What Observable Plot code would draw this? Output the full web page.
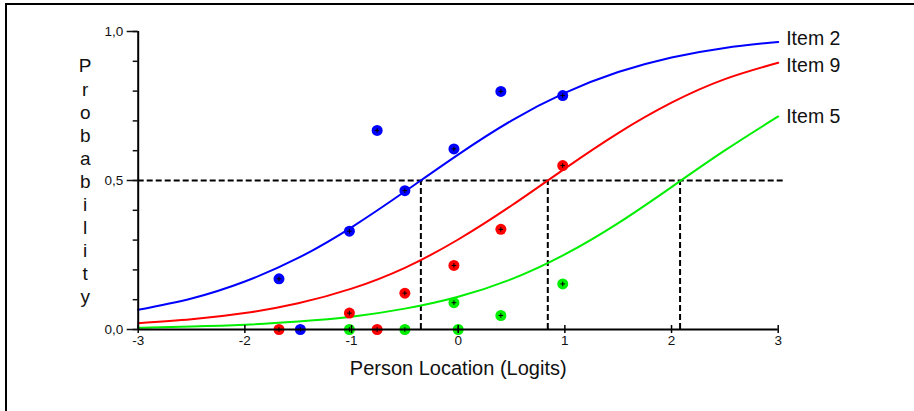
<!DOCTYPE html>
<html><head><meta charset="utf-8">
<script src="https://cdn.jsdelivr.net/npm/d3@7"></script>
<script src="https://cdn.jsdelivr.net/npm/@observablehq/plot@0.6"></script>
<style>
body{margin:0;background:#fff;}
#wrap{position:relative;width:914px;height:411px;overflow:hidden;background:#fff;}
#border{position:absolute;left:5px;top:3px;width:960px;height:460px;border-left:2px solid #000;border-top:2.5px solid #000;pointer-events:none;}
#chart svg g[aria-label$="tick label"], #chart svg g[aria-label$="tick label"] text{font-size:13.5px !important;fill:#111;}
</style></head>
<body><div id="wrap"><div id="chart"></div><div id="border"></div></div>
<script>
// ---- data ----
const items = ["Item 2", "Item 9", "Item 5"];
const colors = ["#0000ff", "#ff0000", "#00ee00"];
const xs = [-3, -2.5, -2, -1.5, -1, -0.5, 0, 0.5, 1, 1.5, 2, 2.5, 3];
const item2 = [0.066, 0.104, 0.161, 0.240, 0.343, 0.463, 0.587, 0.701, 0.794, 0.864, 0.913, 0.945, 0.965];
const item9 = [0.021, 0.034, 0.055, 0.088, 0.137, 0.207, 0.302, 0.416, 0.540, 0.659, 0.761, 0.840, 0.895];
const item5 = [0.006, 0.010, 0.016, 0.027, 0.043, 0.070, 0.110, 0.169, 0.252, 0.357, 0.478, 0.601, 0.715];

const obs2x = [-1.68, -1.48, -1.02, -0.76, -0.50, -0.04, 0.40, 0.98];
const obs2y = [0.170, 0.0, 0.330, 0.668, 0.466, 0.606, 0.799, 0.785];
const obs9x = [-1.68, -1.02, -0.76, -0.50, -0.04, 0.40, 0.98];
const obs9y = [0.0, 0.055, 0.0, 0.122, 0.215, 0.336, 0.550];
const obs5x = [-1.02, -0.50, -0.04, 0.00, 0.40, 0.98];
const obs5y = [0.0, 0.0, 0.090, 0.0, 0.047, 0.153];

const threshold = 0.5;
const crossings = [-0.35, 0.84, 2.08];
const xTicks = [-3, -2, -1, 0, 1, 2, 3];
const yMajor = [0, 0.5, 1];
const yMinor = [0, 0.1, 0.2, 0.3, 0.4, 0.5, 0.6, 0.7, 0.8, 0.9, 1];
const xLabel = "Person Location (Logits)";
const yLabel = "Probability";

// ---- tables ----
const series = [item2, item9, item5];
const curveData = items.flatMap((item, k) => xs.map((x, i) => ({item, x, p: series[k][i]})));
const obsX = [obs2x, obs9x, obs5x], obsY = [obs2y, obs9y, obs5y];
const obsData = items.flatMap((item, k) => obsX[k].map((x, i) => ({item, x, p: obsY[k][i]})));
const labelDy = {"Item 2": -3, "Item 9": 3, "Item 5": 0};

const font = "'Liberation Sans', Arial, Helvetica, sans-serif";
const dash = {stroke: "#000", strokeWidth: 2, strokeDasharray: "6,3"};

const chart = Plot.plot({
  width: 914, height: 411,
  marginLeft: 137.7, marginRight: 136.3, marginTop: 31, marginBottom: 82,
  style: {fontFamily: font, fontSize: "13px", background: "#fff", color: "#111", overflow: "visible"},
  x: {domain: [-3, 3]},
  y: {domain: [0, 1]},
  color: {domain: items, range: colors},
  marks: [
    Plot.ruleY([threshold], {x1: -3, x2: 3, insetRight: -5, ...dash}),
    Plot.ruleX(crossings, {y1: 0, y2: threshold, ...dash}),
    Plot.line(curveData, {x: "x", y: "p", z: "item", stroke: "item", strokeWidth: 2, curve: "natural"}),
    Plot.dot(obsData, {x: "x", y: "p", fill: "item", r: 5.5}),
    Plot.dot(obsData, {x: "x", y: "p", symbol: "plus", r: 1.6, stroke: "#000", strokeWidth: 1}),
    Plot.ruleX([-3], {stroke: "#000", strokeWidth: 2}),
    Plot.ruleY([0], {stroke: "#000", strokeWidth: 2}),
    Plot.ruleX(xTicks, {y1: 0, y2: 0, insetTop: -4, insetBottom: -4, stroke: "#000", strokeWidth: 1.5}),
    Plot.axisX({ticks: xTicks, tickSize: 0, tickPadding: 6, tickFormat: d => String(d), fontSize: 13, fill: "#111", label: null}),
    Plot.axisY({ticks: yMinor, tickSize: 5, tickFormat: () => "", strokeWidth: 1.5, label: null}),
    Plot.axisY({ticks: yMajor, tickSize: 11, tickPadding: 4, strokeWidth: 1.5, fontSize: 13, fill: "#111",
      tickFormat: d => d.toFixed(1).replace(".", ","), label: null}),
    ...items.map((item, k) => Plot.text([item], {
      x: 3, y: series[k][series[k].length - 1], text: d => d,
      dx: 8, dy: labelDy[item], textAnchor: "start", fontSize: 19.5, fill: "#111"})),
    Plot.text([yLabel], {text: d => d.split("").join("\n"), frameAnchor: "left", dx: -53,
      textAnchor: "middle", lineHeight: 1.215, fontSize: 19, fill: "#111"}),
    Plot.text([xLabel], {text: d => d, frameAnchor: "bottom", dy: 45, fontSize: 20, fill: "#111"})
  ]
});
document.getElementById("chart").appendChild(chart);
</script></body></html>
